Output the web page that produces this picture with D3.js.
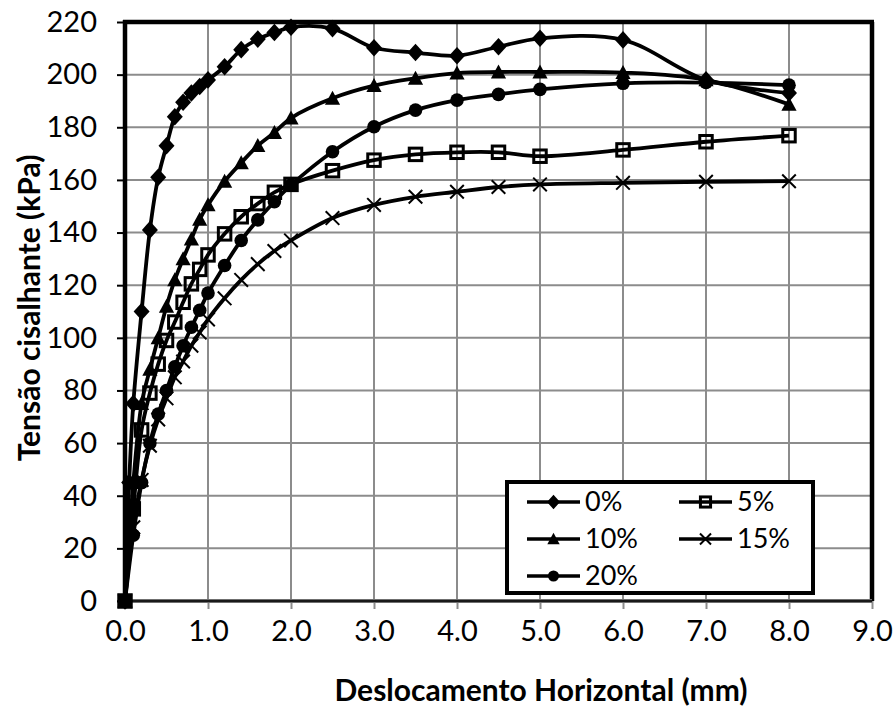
<!DOCTYPE html>
<html>
<head>
<meta charset="utf-8">
<script src="https://cdn.jsdelivr.net/npm/d3@7/dist/d3.min.js"></script>
<style>
  html, body { margin: 0; padding: 0; background: #fff; }
  svg { display: block; }
  text { font-family: Lato, "Open Sans", sans-serif; fill: #000; }
</style>
</head>
<body>
<svg id="chart" width="896" height="709"></svg>
<script>
// ---- data ----
const xTickValues = [0, 1, 2, 3, 4, 5, 6, 7, 8, 9];
const yTickValues = [0, 20, 40, 60, 80, 100, 120, 140, 160, 180, 200, 220];
const seriesNames = ["0%", "5%", "10%", "15%", "20%"];

const x0 = [0, 0.05, 0.1, 0.2, 0.3, 0.4, 0.5, 0.6, 0.7, 0.8, 0.9, 1.0, 1.2, 1.4, 1.6, 1.8, 2.0, 2.5, 3.0, 3.5, 4.0, 4.5, 5.0, 6.0, 7.0, 8.0];
const y0 = [0, 45, 75, 110, 141, 161, 173, 184, 189.5, 193, 195.5, 198, 203, 209.5, 213.5, 216, 218, 217.5, 210.2, 208.4, 207.2, 210.6, 213.8, 213.2, 198, 193];

const x5 = [0, 0.1, 0.2, 0.3, 0.4, 0.5, 0.6, 0.7, 0.8, 0.9, 1.0, 1.2, 1.4, 1.6, 1.8, 2.0, 2.5, 3.0, 3.5, 4.0, 4.5, 5.0, 6.0, 7.0, 8.0];
const y5 = [0, 35, 65, 79, 90, 99, 106, 113.5, 120.5, 126, 131.5, 139.5, 146, 151, 155.3, 158.3, 163.5, 167.5, 169.7, 170.5, 170.5, 169, 171.4, 174.5, 176.8];

const x10 = [0, 0.1, 0.2, 0.3, 0.4, 0.5, 0.6, 0.7, 0.8, 0.9, 1.0, 1.2, 1.4, 1.6, 1.8, 2.0, 2.5, 3.0, 3.5, 4.0, 4.5, 5.0, 6.0, 7.0, 8.0];
const y10 = [0, 45, 75, 88, 100, 112, 122, 130, 137.5, 145, 150.5, 159.5, 166.5, 173, 178, 183.5, 191, 195.8, 198.6, 200.6, 201, 201, 200.8, 198, 188.7];

const x15 = [0, 0.1, 0.2, 0.3, 0.4, 0.5, 0.6, 0.7, 0.8, 0.9, 1.0, 1.2, 1.4, 1.6, 1.8, 2.0, 2.5, 3.0, 3.5, 4.0, 4.5, 5.0, 6.0, 7.0, 8.0];
const y15 = [0, 28, 46, 59, 69, 77, 85, 91, 97, 102, 107, 115, 122, 128, 133, 137, 145.5, 150.5, 153.6, 155.5, 157.3, 158.3, 158.9, 159.3, 159.5];

const x20 = [0, 0.1, 0.2, 0.3, 0.4, 0.5, 0.6, 0.7, 0.8, 0.9, 1.0, 1.2, 1.4, 1.6, 1.8, 2.0, 2.5, 3.0, 3.5, 4.0, 4.5, 5.0, 6.0, 7.0, 8.0];
const y20 = [0, 25, 45, 60, 71, 80, 89, 97, 104, 110.5, 117, 127.5, 137, 144.8, 151.7, 158, 170.7, 180.2, 186.5, 190.3, 192.5, 194.4, 196.7, 197, 196];

const seriesX = [x0, x5, x10, x15, x20];
const seriesY = [y0, y5, y10, y15, y20];
const markerTypes = ["diamond", "square", "triangle", "cross", "circle"];

const xTitle = "Deslocamento Horizontal (mm)";
const yTitle = "Tensão cisalhante (kPa)";

// ---- layout ----
const svg = d3.select("#chart");
const L = 125, R = 872, T = 22, B = 601;
const x = d3.scaleLinear().domain([0, 9]).range([L, R]);
const y = d3.scaleLinear().domain([0, 220]).range([B, T]);

// gridlines
const grid = svg.append("g");
grid.selectAll("line.v").data(xTickValues.slice(1, -1)).enter().append("line")
  .attr("x1", d => x(d)).attr("x2", d => x(d)).attr("y1", T).attr("y2", B)
  .attr("stroke", "#8c8c8c").attr("stroke-width", 2);
grid.selectAll("line.h").data(yTickValues.slice(1, -1)).enter().append("line")
  .attr("x1", L).attr("x2", R).attr("y1", d => y(d)).attr("y2", d => y(d))
  .attr("stroke", "#8c8c8c").attr("stroke-width", 2);

// axes
const yAxis = d3.axisLeft(y).tickValues(yTickValues).tickSize(8).tickPadding(20).tickFormat(d3.format("d"));
const gy = svg.append("g").attr("transform", `translate(${L},0)`).call(yAxis);
gy.select(".domain").remove();
gy.selectAll(".tick line").attr("stroke", "#000").attr("stroke-width", 2);
gy.selectAll(".tick text").style("font-size", "29px").attr("font-family", "Lato, sans-serif");

const xAxis = d3.axisBottom(x).tickValues(xTickValues).tickSize(8).tickPadding(11).tickFormat(d3.format(".1f"));
const gx = svg.append("g").attr("transform", `translate(0,${B})`).call(xAxis);
gx.select(".domain").remove();
gx.selectAll(".tick line").attr("stroke", "#8c8c8c").attr("stroke-width", 2);
gx.selectAll(".tick text").style("font-size", "29px").attr("font-family", "Lato, sans-serif");

// frame
svg.append("line").attr("x1", L - 2).attr("x2", R + 2).attr("y1", T).attr("y2", T).attr("stroke", "#000").attr("stroke-width", 4.5);
svg.append("line").attr("x1", R).attr("x2", R).attr("y1", T).attr("y2", B).attr("stroke", "#000").attr("stroke-width", 4.5);
svg.append("line").attr("x1", L).attr("x2", L).attr("y1", T - 2).attr("y2", B + 2).attr("stroke", "#000").attr("stroke-width", 4.5);
svg.append("line").attr("x1", L).attr("x2", R).attr("y1", B).attr("y2", B).attr("stroke", "#8c8c8c").attr("stroke-width", 4);
svg.append("line").attr("x1", L).attr("x2", R).attr("y1", B).attr("y2", B).attr("stroke", "#1a1a1a").attr("stroke-width", 2.5);

// markers
function drawMarker(g, type, cx, cy, s) {
  if (type === "diamond") {
    g.append("path").attr("d", `M${cx},${cy - s * 1.1}L${cx + s},${cy}L${cx},${cy + s * 1.1}L${cx - s},${cy}Z`).attr("fill", "#000");
  } else if (type === "square") {
    g.append("rect").attr("x", cx - s * 0.78).attr("y", cy - s * 0.78).attr("width", s * 1.56).attr("height", s * 1.56)
      .attr("fill", "none").attr("stroke", "#000").attr("stroke-width", 3);
  } else if (type === "triangle") {
    g.append("path").attr("d", `M${cx},${cy - s * 0.95}L${cx + s * 0.95},${cy + s * 0.8}L${cx - s * 0.95},${cy + s * 0.8}Z`).attr("fill", "#000");
  } else if (type === "cross") {
    g.append("path").attr("d", `M${cx - s * 0.85},${cy - s * 0.85}L${cx + s * 0.85},${cy + s * 0.85}M${cx - s * 0.85},${cy + s * 0.85}L${cx + s * 0.85},${cy - s * 0.85}`)
      .attr("stroke", "#000").attr("stroke-width", 2);
  } else if (type === "circle") {
    g.append("circle").attr("cx", cx).attr("cy", cy).attr("r", s * 0.85).attr("fill", "#000");
  }
}

const line = d3.line().x(d => x(d[0])).y(d => y(d[1])).curve(d3.curveCatmullRom.alpha(0.5));

const plot = svg.append("g");
seriesNames.forEach((name, i) => {
  const pts = seriesX[i].map((v, j) => [v, seriesY[i][j]]);
  const g = plot.append("g").attr("class", "series");
  g.append("path").datum(pts).attr("d", line).attr("fill", "none").attr("stroke", "#000").attr("stroke-width", 3.8)
    .attr("stroke-linejoin", "round");
  pts.forEach(p => drawMarker(g, markerTypes[i], x(p[0]), y(p[1]), 8));
});

// legend
const lg = svg.append("g");
lg.append("rect").attr("x", 507).attr("y", 482).attr("width", 306).attr("height", 111)
  .attr("fill", "#fff").attr("stroke", "#000").attr("stroke-width", 4);
const legendPos = [[527, 502], [679, 502], [527, 539], [679, 539], [527, 576]];
seriesNames.forEach((name, i) => {
  const [lx, ly] = legendPos[i];
  lg.append("line").attr("x1", lx).attr("x2", lx + 53).attr("y1", ly).attr("y2", ly).attr("stroke", "#000").attr("stroke-width", 3.5);
  drawMarker(lg, markerTypes[i], lx + 26.5, ly, 6.5);
  lg.append("text").attr("x", lx + 58).attr("y", ly).attr("dy", "0.35em").style("font-size", "27px").text(name);
});

// titles
svg.append("text").attr("x", 541).attr("y", 690).attr("dy", "0.35em").attr("text-anchor", "middle")
  .style("font-size", "30px").style("font-weight", "bold").text(xTitle);
svg.append("text").attr("transform", "translate(29,308) rotate(-90)").attr("dy", "0.35em").attr("text-anchor", "middle")
  .style("font-size", "30px").style("font-weight", "bold").text(yTitle);
</script>
</body>
</html>
